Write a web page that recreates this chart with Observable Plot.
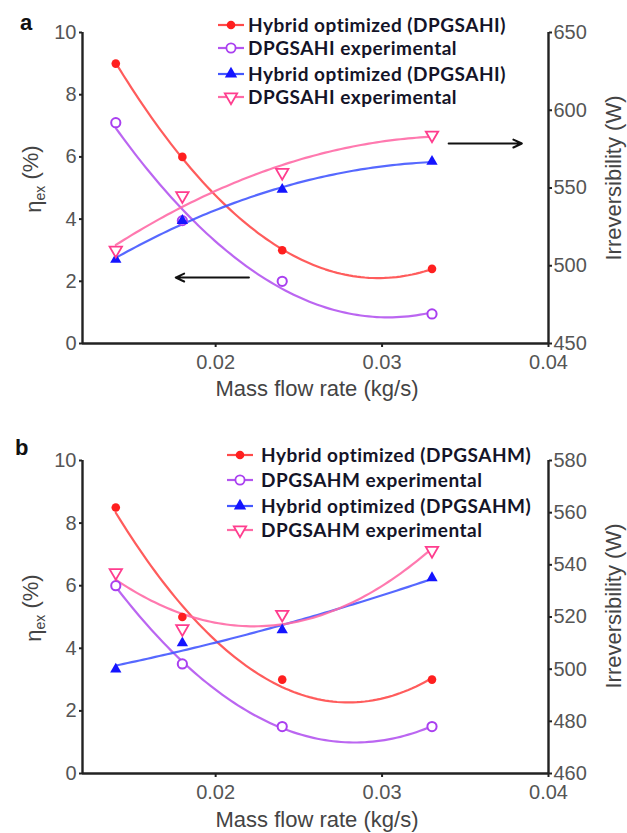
<!DOCTYPE html>
<html><head><meta charset="utf-8">
<script src="https://cdn.jsdelivr.net/npm/d3@7"></script>
<script src="https://cdn.jsdelivr.net/npm/@observablehq/plot@0.6"></script>
<style>
body{margin:0;background:#fff;}
#chart{width:627px;height:833px;}
#chart svg{display:block;}
</style></head><body><div id="chart"></div>
<script>
// ---- shared ----
const massFlow = [0.014, 0.018, 0.024, 0.033];
const xTicks = [0.02, 0.03, 0.04];
const etaTicks = [0, 2, 4, 6, 8, 10];

// ---- panel a ----
const aHybridEta = [9.0, 6.0, 3.0, 2.4];
const aExpEta = [7.1, 3.95, 2.0, 0.95];
const aHybridIrr = [504, 529, 549, 567];
const aExpIrr = [510, 545, 560, 584];
const aIrrTicks = [450, 500, 550, 600, 650];
const aLegend = ["Hybrid optimized (DPGSAHI)", "DPGSAHI experimental", "Hybrid optimized (DPGSAHI)", "DPGSAHI experimental"];

// ---- panel b ----
const bHybridEta = [8.5, 5.0, 3.0, 3.0];
const bExpEta = [6.0, 3.5, 1.5, 1.5];
const bHybridIrr = [500, 510, 515, 535];
const bExpIrr = [537, 515.5, 521, 545.5];
const bIrrTicks = [460, 480, 500, 520, 540, 560, 580];
const bLegend = ["Hybrid optimized (DPGSAHM)", "DPGSAHM experimental", "Hybrid optimized (DPGSAHM)", "DPGSAHM experimental"];

const xLabel = "Mass flow rate (kg/s)";
const rightLabel = "Irreversibility (W)";

// styles
const C = {
  red: "#ff1f1f", redLine: "#ff4a4a",
  purple: "#a93ff0", purpleLine: "#b455f0",
  blue: "#1414ff", blueLine: "#4458ff",
  pink: "#ff3d8e", pinkLine: "#ff6aa6",
  axis: "#222", tick: "#555"
};
const triDown = {
  draw(ctx, size) {
    const s = Math.sqrt(size * 4 / Math.sqrt(3));
    const h = s * Math.sqrt(3) / 2;
    ctx.moveTo(-s / 2, -h / 3);
    ctx.lineTo(s / 2, -h / 3);
    ctx.lineTo(0, 2 * h / 3);
    ctx.closePath();
  }
};
const triUp = {
  draw(ctx, size) {
    const s = Math.sqrt(size * 4 / Math.sqrt(3));
    const h = s * Math.sqrt(3) / 2;
    ctx.moveTo(-s / 2, h / 3);
    ctx.lineTo(s / 2, h / 3);
    ctx.lineTo(0, -2 * h / 3);
    ctx.closePath();
  }
};

// custom d3 curve: draws the 2nd-order least-squares trend through the given points
function quadTrend(context) {
  let pts;
  return {
    areaStart() {}, areaEnd() {},
    lineStart() { pts = []; },
    point(x, y) { pts.push([+x, +y]); },
    lineEnd() {
      const n = pts.length;
      if (!n) return;
      const mx = d3.mean(pts, p => p[0]);
      let S1 = 0, S2 = 0, S3 = 0, S4 = 0, Sy = 0, Suy = 0, Su2y = 0;
      for (const [x, y] of pts) {
        const u = x - mx;
        S1 += u; S2 += u * u; S3 += u ** 3; S4 += u ** 4;
        Sy += y; Suy += u * y; Su2y += u * u * y;
      }
      const det3 = m => m[0][0] * (m[1][1] * m[2][2] - m[1][2] * m[2][1])
        - m[0][1] * (m[1][0] * m[2][2] - m[1][2] * m[2][0])
        + m[0][2] * (m[1][0] * m[2][1] - m[1][1] * m[2][0]);
      const M = [[n, S1, S2], [S1, S2, S3], [S2, S3, S4]];
      const R = [Sy, Suy, Su2y];
      const D = det3(M);
      const col = k => M.map((row, i) => row.map((v, j) => (j === k ? R[i] : v)));
      const a = det3(col(0)) / D, b = det3(col(1)) / D, c = det3(col(2)) / D;
      const x0 = d3.min(pts, p => p[0]), x1 = d3.max(pts, p => p[0]);
      const steps = 80;
      for (let i = 0; i <= steps; i++) {
        const x = x0 + (x1 - x0) * i / steps, u = x - mx;
        const y = a + b * u + c * u * u;
        if (i === 0) context.moveTo(x, y); else context.lineTo(x, y);
      }
    }
  };
}

function panel(o) {
  const irrMin = o.irrTicks[0], irrMax = o.irrTicks[o.irrTicks.length - 1];
  const toEta = v => (v - irrMin) / (irrMax - irrMin) * 10;
  const rows = massFlow.map((m, i) => ({m, hE: o.hybridEta[i], eE: o.expEta[i], hI: o.hybridIrr[i], eI: o.expIrr[i]}));
  const lineStyle = {x: "m", curve: quadTrend, strokeWidth: 2.2, strokeOpacity: 0.9};
  const svg = Plot.plot({
    width: 627, height: o.height,
    marginLeft: 82, marginRight: 79, marginTop: o.mt, marginBottom: o.mb,
    x: {domain: [0.012, 0.04]},
    y: {domain: [0, 10]},
    style: {fontFamily: "'Liberation Sans', Arial, sans-serif", background: "transparent", overflow: "visible"},
    marks: [
      Plot.axisX(xTicks, {tickSize: 4, tickPadding: 7, fontSize: 20, fill: C.tick, stroke: C.axis, strokeWidth: 2, label: null, tickFormat: d => d.toFixed(2)}),
      Plot.axisY(etaTicks, {anchor: "left", tickSize: 3, tickPadding: 3, fontSize: 20, fill: C.tick, stroke: C.axis, strokeWidth: 2, label: null}),
      Plot.axisY(o.irrTicks.map(toEta), {anchor: "right", tickSize: 3, tickPadding: 2, fontSize: 20, fill: C.tick, stroke: C.axis, strokeWidth: 2, label: null,
        tickFormat: d => String(Math.round(irrMin + d / 10 * (irrMax - irrMin)))}),
      Plot.ruleX([0.012], {stroke: C.axis, strokeWidth: 2.4}),
      Plot.ruleX([0.04], {stroke: C.axis, strokeWidth: 2.4}),
      Plot.ruleY([0], {stroke: C.axis, strokeWidth: 2.4}),
      Plot.line(rows, {...lineStyle, y: "hE", stroke: C.redLine}),
      Plot.line(rows, {...lineStyle, y: "eE", stroke: C.purpleLine}),
      Plot.line(rows, {...lineStyle, y: d => toEta(d.hI), stroke: C.blueLine}),
      Plot.line(rows, {...lineStyle, y: d => toEta(d.eI), stroke: C.pinkLine}),
      Plot.dot(rows, {x: "m", y: "hE", r: 4.3, fill: C.red, stroke: "none"}),
      Plot.dot(rows, {x: "m", y: "eE", r: 4.6, fill: "white", stroke: C.purple, strokeWidth: 2}),
      Plot.dot(rows, {x: "m", y: d => toEta(d.hI), symbol: triUp, r: 4.2, fill: C.blue, stroke: "none"}),
      Plot.dot(rows, {x: "m", y: d => toEta(d.eI), symbol: triDown, r: 4.6, fill: "white", stroke: C.pink, strokeWidth: 1.8}),
      ...(o.arrows || [])
    ]
  });
  const g = d3.select(svg);
  const font = "'Liberation Sans', Arial, sans-serif";
  // panel letter
  g.append("text").attr("x", o.letterX).attr("y", o.letterY).attr("text-anchor", "start").attr("font-family", font).attr("font-weight", "bold")
    .attr("font-size", 22).attr("fill", "#111").text(o.letter);
  // y-left label with subscript
  const yl = g.append("text").attr("transform", `translate(33,${o.ylCenter}) rotate(-90)`).attr("text-anchor", "middle")
    .attr("dy", "0.35em").attr("font-family", font).attr("font-size", 22).attr("fill", "#444");
  yl.append("tspan").text("\u03b7");
  yl.append("tspan").attr("font-size", 14).attr("dy", "0.3em").text("ex");
  yl.append("tspan").attr("dy", "-0.3em").text(" (%)");
  // right label
  g.append("text").attr("transform", `translate(613,${o.yrCenter}) rotate(-90)`).attr("text-anchor", "middle")
    .attr("dy", "0.35em").attr("font-family", font).attr("font-size", 22).attr("fill", "#444").text(rightLabel);
  // x label
  g.append("text").attr("x", 317).attr("y", o.xlCenter).attr("text-anchor", "middle").attr("dy", "0.35em")
    .attr("font-family", font).attr("font-size", 22).attr("fill", "#444").text(xLabel);
  // legend
  const lg = g.append("g");
  const cols = [C.red, C.purple, C.blue, C.pink];
  const lcols = [C.redLine, C.purpleLine, C.blueLine, C.pinkLine];
  const syms = [d3.symbolCircle, d3.symbolCircle, triUp, triDown];
  o.legendY.forEach((y, i) => {
    lg.append("line").attr("x1", o.legX - 13).attr("x2", o.legX + 13).attr("y1", y).attr("y2", y)
      .attr("stroke", lcols[i]).attr("stroke-width", 2.2);
    const p = lg.append("path").attr("transform", `translate(${o.legX},${y})`)
      .attr("d", d3.symbol(syms[i], i === 0 ? 58 : 66)());
    if (i === 0 || i === 2) p.attr("fill", cols[i]);
    else p.attr("fill", "white").attr("stroke", cols[i]).attr("stroke-width", 1.8);
    lg.append("text").attr("x", o.legX + o.legTextDx).attr("y", y).attr("dy", "0.35em").attr("text-anchor", "start")
      .attr("font-family", "Lato, 'Open Sans', sans-serif").attr("font-weight", "bold").attr("font-size", 19)
      .attr("letter-spacing", "0.5px").attr("fill", "#141428").text(o.legend[i]);
  });
  return svg;
}

const root = document.getElementById("chart");
root.appendChild(panel({
  height: 400, mt: 32, mb: 57,
  hybridEta: aHybridEta, expEta: aExpEta, hybridIrr: aHybridIrr, expIrr: aExpIrr, irrTicks: aIrrTicks,
  legend: aLegend, legendY: [25, 48, 74, 97], legX: 231, legTextDx: 17,
  letter: "a", letterX: 20, letterY: 30, ylCenter: 179, yrCenter: 178, xlCenter: 388,
  arrows: [
    Plot.arrow([0], {x1: () => 0.022, y1: () => 2.12, x2: () => 0.0176, y2: () => 2.12, stroke: "#111", strokeWidth: 2, headLength: 7, headAngle: 50}),
    Plot.arrow([0], {x1: () => 0.0340, y1: () => 6.43, x2: () => 0.0384, y2: () => 6.43, stroke: "#111", strokeWidth: 2, headLength: 7, headAngle: 50})
  ]
}));
root.appendChild(panel({
  height: 433, mt: 60, mb: 60,
  hybridEta: bHybridEta, expEta: bExpEta, hybridIrr: bHybridIrr, expIrr: bExpIrr, irrTicks: bIrrTicks,
  legend: bLegend, legendY: [55, 80, 106, 130], legX: 240, legTextDx: 21,
  letter: "b", letterX: 15, letterY: 55, ylCenter: 208, yrCenter: 206, xlCenter: 419
}));
</script></body></html>
